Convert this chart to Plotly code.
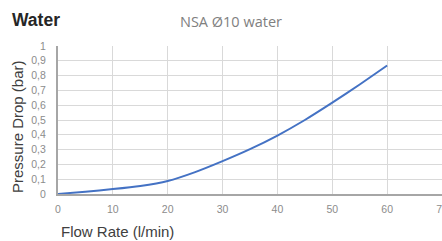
import plotly.graph_objects as go

flow_rate = [0, 5, 10, 15, 20, 25, 30, 35, 40, 45, 50, 55, 60]
pressure_drop = [0, 0.016, 0.033, 0.054, 0.088, 0.148, 0.222, 0.303, 0.395, 0.500, 0.617, 0.740, 0.868]
x_ticks = [0, 10, 20, 30, 40, 50, 60, 70]
y_ticks = [0, 0.1, 0.2, 0.3, 0.4, 0.5, 0.6, 0.7, 0.8, 0.9, 1]
y_tick_labels = ["0", "0,1", "0,2", "0,3", "0,4", "0,5", "0,6", "0,7", "0,8", "0,9", "1"]

L, R, T, B = 58, 0, 46, 47
W, H = 442, 241

fig = go.Figure()
fig.add_trace(go.Scatter(
    x=flow_rate, y=pressure_drop, mode="lines",
    line=dict(color="#4472C4", width=2, shape="spline", smoothing=0.6),
    showlegend=False, hoverinfo="skip",
))

tick_font = dict(family="Liberation Sans, Arial, sans-serif", size=10.5, color="#8c8c8c")
fig.update_layout(
    width=W, height=H,
    margin=dict(l=L, r=R, t=T, b=B, autoexpand=False),
    paper_bgcolor="white", plot_bgcolor="white",
    xaxis=dict(
        range=[0, 70], tickvals=x_ticks, ticktext=[str(v) for v in x_ticks],
        showgrid=True, gridcolor="#d9d9d9", gridwidth=1,
        showline=True, linecolor="#a6a6a6", linewidth=2,
        zeroline=False, ticks="", tickfont=tick_font, automargin=False,
        ticklabelstandoff=4, ticklabeloverflow="allow",
    ),
    yaxis=dict(
        range=[0, 1], tickvals=y_ticks, ticktext=y_tick_labels,
        showgrid=True, gridcolor="#d9d9d9", gridwidth=1,
        showline=True, linecolor="#a6a6a6", linewidth=2,
        zeroline=False, ticks="", tickfont=tick_font, automargin=False,
        ticklabelstandoff=8, ticklabeloverflow="allow",
    ),
)

pw = W - L - R
ph = H - T - B


def px(x):
    return (x - L) / pw


def py(y):
    return (H - B - y) / ph


annotations = [
    dict(text="<b>Water</b>", x=px(10), y=py(20), xanchor="left",
         font=dict(family="Liberation Sans, Arial, sans-serif", size=17.5, color="#262626")),
    dict(text="NSA Ø10 water", x=px(231), y=py(21), xanchor="center",
         font=dict(family="Open Sans, sans-serif", size=14.5, color="#808080")),
    dict(text="Pressure Drop (bar)", x=px(17), y=py(127), xanchor="center", textangle=-90,
         font=dict(family="Liberation Sans, Arial, sans-serif", size=15, color="#404040")),
    dict(text="Flow Rate (l/min)", x=px(59), y=py(231), xanchor="left",
         font=dict(family="Liberation Sans, Arial, sans-serif", size=15, color="#404040")),
]
for a in annotations:
    a.update(xref="paper", yref="paper", showarrow=False, yanchor="middle")
fig.update_layout(annotations=annotations)

fig.write_html(
    "out.html",
    config={"displayModeBar": False, "staticPlot": True},
    post_script="document.body.style.margin='0';document.body.style.overflow='hidden';",
)
